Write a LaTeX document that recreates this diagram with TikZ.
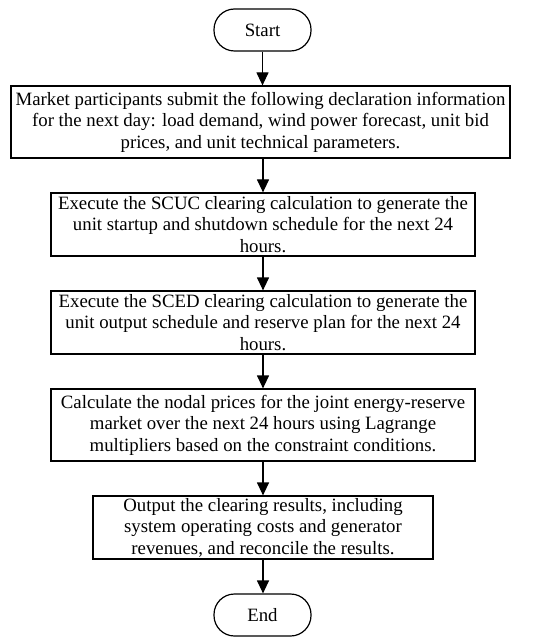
\documentclass[tikz,border=0pt]{standalone}
\IfFileExists{pplr8t.tfm}{%
  \usepackage[T1]{fontenc}\renewcommand\rmdefault{ppl}%
  \newcommand\myfs{\fontsize{17}{21.5}\selectfont}}{%
  \usepackage{fontspec}\setmainfont{Liberation Serif}%
  \newcommand\myfs{\fontsize{18.8}{21.5}\selectfont}}
\usetikzlibrary{arrows.meta}
\begin{document}
\begin{tikzpicture}[x=1pt,y=1pt,
  box/.style={draw,line width=1.2pt,rectangle,inner sep=0pt,align=center,
    font=\myfs},
  term/.style={box,rounded corners=20.5pt,minimum width=97pt,minimum height=42pt},
  arr/.style={line width=1.2pt,-{Triangle[length=13pt,width=12pt]}}]
\useasboundingbox (0,0) rectangle (550,-644);
\node[term] (start) at (262.5,-30) {Start};
\node[box,minimum width=499pt,minimum height=72pt] (b1) at (260.5,-122)
  {Market participants submit the following declaration information\\
   for the next day: load demand, wind power forecast, unit bid\\
   prices, and unit technical parameters.};
\node[box,minimum width=424pt,minimum height=63pt] (b2) at (263,-224.5)
  {Execute the SCUC clearing calculation to generate the\\
   unit startup and shutdown schedule for the next 24\\
   hours.};
\node[box,minimum width=424pt,minimum height=63pt] (b3) at (263,-322.5)
  {Execute the SCED clearing calculation to generate the\\
   unit output schedule and reserve plan for the next 24\\
   hours.};
\node[box,minimum width=424pt,minimum height=72pt] (b4) at (263,-425)
  {Calculate the nodal prices for the joint energy-reserve\\
   market over the next 24 hours using Lagrange\\
   multipliers based on the constraint conditions.};
\node[box,minimum width=340pt,minimum height=63pt] (b5) at (263,-527.5)
  {Output the clearing results, including\\
   system operating costs and generator\\
   revenues, and reconcile the results.};
\node[term] (end) at (262.5,-615) {End};
\draw[arr] (start.south) -- (b1.north -| start.south);
\draw[arr] (b1.south -| b2.north) -- (b2.north);
\draw[arr] (b2) -- (b3);
\draw[arr] (b3) -- (b4);
\draw[arr] (b4) -- (b5);
\draw[arr] (b5.south) -- (end.north -| b5.south);
\end{tikzpicture}
\end{document}
